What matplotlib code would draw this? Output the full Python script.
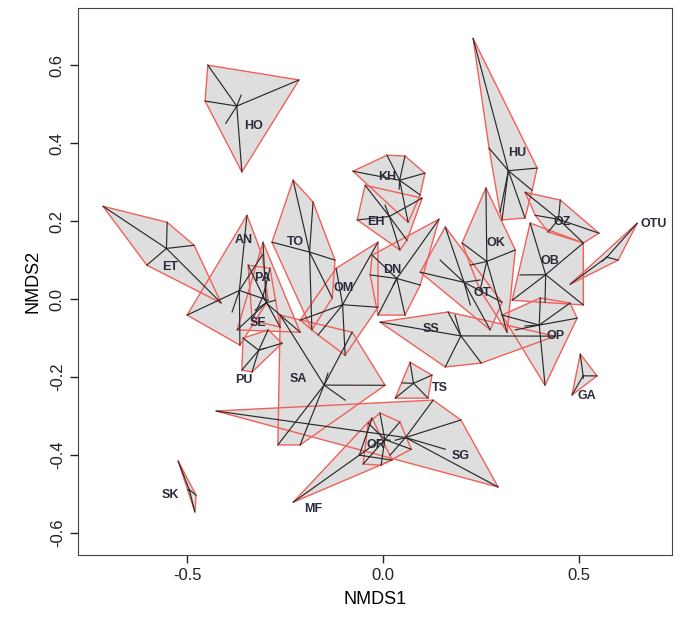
import numpy as np
import matplotlib.pyplot as plt

plt.rcParams['font.family'] = ['Liberation Sans', 'DejaVu Sans']

# site scores per group (NMDS1, NMDS2)
groups = {
    'HO': [(-0.448, 0.600), (-0.215, 0.562), (-0.455, 0.508), (-0.361, 0.326), (-0.363, 0.523), (-0.402, 0.451)],
    'HU': [(0.230, 0.669), (0.271, 0.387), (0.394, 0.336), (0.381, 0.279), (0.363, 0.208), (0.304, 0.203), (0.299, 0.223)],
    'OZ': [(0.363, 0.274), (0.453, 0.254), (0.552, 0.169), (0.512, 0.144), (0.422, 0.172), (0.389, 0.215)],
    'OTU': [(0.650, 0.195), (0.601, 0.100), (0.478, 0.038), (0.560, 0.097)],
    'OB': [(0.376, 0.195), (0.512, 0.144), (0.512, -0.015), (0.330, -0.003), (0.350, 0.062), (0.414, -0.008)],
    'OK': [(0.263, 0.285), (0.338, 0.126), (0.202, 0.144), (0.317, -0.085), (0.223, 0.087), (0.248, 0.023)],
    'OT': [(0.159, 0.185), (0.146, 0.100), (0.304, -0.008), (0.223, -0.015), (0.274, -0.079), (0.248, 0.049), (0.095, 0.069)],
    'OP': [(0.304, -0.041), (0.402, 0.003), (0.478, -0.010), (0.496, -0.049), (0.414, -0.221), (0.363, -0.069), (0.338, -0.079)],
    'GA': [(0.504, -0.141), (0.547, -0.197), (0.483, -0.246), (0.512, -0.203)],
    'SS': [(-0.008, -0.059), (0.166, -0.033), (0.440, -0.095), (0.251, -0.164), (0.159, -0.174), (0.184, -0.041)],
    'TS': [(0.069, -0.162), (0.125, -0.195), (0.115, -0.254), (0.031, -0.254), (0.049, -0.215)],
    'SG': [(-0.427, -0.287), (0.128, -0.259), (0.199, -0.310), (0.294, -0.482), (0.159, -0.385), (0.031, -0.362), (0.018, -0.400)],
    'OR': [(-0.038, -0.318), (-0.008, -0.292), (0.043, -0.315), (0.072, -0.385), (-0.005, -0.426), (-0.051, -0.423), (0.018, -0.362)],
    'MF': [(-0.230, -0.521), (-0.028, -0.305), (0.023, -0.413), (-0.008, -0.362)],
    'SK': [(-0.524, -0.415), (-0.478, -0.503), (-0.481, -0.546), (-0.499, -0.490)],
    'ET': [(-0.716, 0.238), (-0.552, 0.197), (-0.483, 0.138), (-0.414, -0.010), (-0.604, 0.087)],
    'AN': [(-0.348, 0.215), (-0.501, -0.041), (-0.366, -0.118), (-0.294, -0.003), (-0.309, 0.113), (-0.386, -0.033)],
    'PA': [(-0.345, 0.087), (-0.289, 0.079), (-0.263, -0.072), (-0.335, -0.054), (-0.302, -0.003)],
    'SE': [(-0.307, 0.146), (-0.373, -0.079), (-0.212, -0.085), (-0.276, -0.003), (-0.327, -0.028)],
    'PU': [(-0.358, -0.100), (-0.294, -0.079), (-0.258, -0.113), (-0.335, -0.187), (-0.361, -0.182), (-0.302, -0.126)],
    'TO': [(-0.230, 0.305), (-0.179, 0.249), (-0.284, 0.146), (-0.130, 0.003), (-0.182, -0.079), (-0.123, 0.100)],
    'OM': [(-0.120, 0.079), (-0.013, 0.146), (-0.013, -0.021), (-0.166, -0.092), (-0.097, -0.144), (-0.212, -0.054)],
    'SA': [(-0.263, -0.041), (-0.079, -0.085), (0.005, -0.221), (-0.097, -0.259), (-0.212, -0.374), (-0.269, -0.374), (-0.141, -0.190)],
    'KH': [(-0.077, 0.328), (0.010, 0.369), (0.056, 0.367), (0.107, 0.323), (0.095, 0.267), (0.064, 0.197), (0.041, 0.282)],
    'EH': [(-0.046, 0.292), (-0.066, 0.203), (0.043, 0.126), (0.100, 0.259), (0.061, 0.151), (0.005, 0.241)],
    'DN': [(0.143, 0.205), (-0.028, 0.113), (-0.033, 0.062), (-0.013, -0.041), (0.056, -0.041), (0.095, 0.036), (0.026, 0.036)],
}

# label positions
labels = {
    'HO': (-0.330, 0.444), 'HU': (0.343, 0.374), 'OZ': (0.458, 0.197), 'OTU': (0.691, 0.192),
    'OB': (0.427, 0.097), 'OK': (0.289, 0.144), 'OT': (0.253, 0.015), 'OP': (0.440, -0.095),
    'GA': (0.522, -0.249), 'SS': (0.123, -0.077), 'TS': (0.146, -0.228), 'SG': (0.199, -0.403),
    'OR': (-0.018, -0.374), 'MF': (-0.179, -0.538), 'SK': (-0.545, -0.503), 'ET': (-0.545, 0.082),
    'AN': (-0.355, 0.151), 'PA': (-0.309, 0.054), 'SE': (-0.320, -0.062), 'PU': (-0.355, -0.208),
    'TO': (-0.223, 0.146), 'OM': (-0.102, 0.028), 'SA': (-0.217, -0.205), 'KH': (0.010, 0.313),
    'EH': (-0.018, 0.197), 'DN': (0.023, 0.074),
}


def hull(pts):
    pts = sorted(set(map(tuple, pts)))

    def cross(o, a, b):
        return (a[0] - o[0]) * (b[1] - o[1]) - (a[1] - o[1]) * (b[0] - o[0])

    lower, upper = [], []
    for p in pts:
        while len(lower) >= 2 and cross(lower[-2], lower[-1], p) <= 0:
            lower.pop()
        lower.append(p)
    for p in reversed(pts):
        while len(upper) >= 2 and cross(upper[-2], upper[-1], p) <= 0:
            upper.pop()
        upper.append(p)
    return np.array(lower[:-1] + upper[:-1])


fig = plt.figure(figsize=(6.81, 6.32), dpi=100)
ax = fig.add_axes([0.1145, 0.122, 0.8725, 0.865])

hulls = {g: hull(p) for g, p in groups.items()}
for g, h in hulls.items():
    ax.fill(h[:, 0], h[:, 1], color='#dedede', lw=0, zorder=1)
for g, h in hulls.items():
    ax.fill(h[:, 0], h[:, 1], facecolor='none', edgecolor='#f0605a', lw=1.0, zorder=2)
for g, p in groups.items():
    p = np.array(p)
    c = p.mean(axis=0)
    for x, y in p:
        ax.plot([c[0], x], [c[1], y], color='#2a2a2a', lw=0.85, zorder=3)
for g, (x, y) in labels.items():
    ax.text(x, y, g, ha='center', va='center', fontsize=9, fontweight='bold',
            color='#2a2a3a', zorder=4)

ax.set_xlim(-0.78, 0.739)
ax.set_ylim(-0.656, 0.746)
xt = [-0.5, 0.0, 0.5]
yt = [-0.6, -0.4, -0.2, 0.0, 0.2, 0.4, 0.6]
ax.set_xticks(xt)
ax.set_xticklabels(['-0.5', '0.0', '0.5'])
ax.set_yticks(yt)
ax.set_yticklabels(['-0.6', '-0.4', '-0.2', '0.0', '0.2', '0.4', '0.6'], rotation=90, va='center')
ax.tick_params(labelsize=12, length=6, width=1, colors='#222222')
for s in ax.spines.values():
    s.set_color('#444444')
ax.set_xlabel('NMDS1', fontsize=13, labelpad=6)
ax.set_ylabel('NMDS2', fontsize=13, labelpad=6)

fig.savefig('out.png', dpi=100)
